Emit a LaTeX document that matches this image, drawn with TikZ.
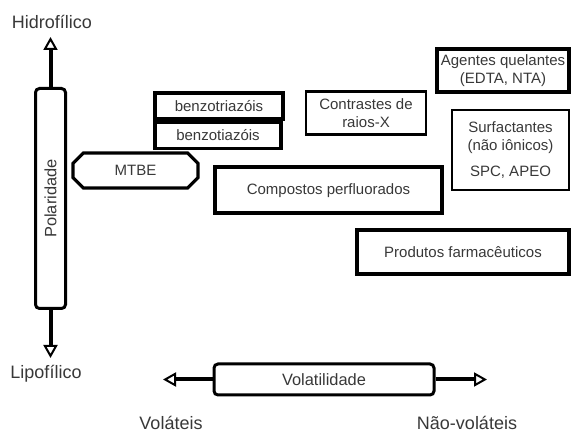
\documentclass[tikz,border=0pt]{standalone}
\usepackage{fontspec}
\setmainfont{Liberation Sans}
\usepackage{xcolor}
\usetikzlibrary{shapes.misc, arrows.meta, positioning, calc}
\definecolor{textgray}{rgb}{0.22, 0.22, 0.22}

\begin{document}
\begin{tikzpicture}[
    x=0.5pt, y=-0.5pt,
    every node/.style={text=textgray},
    group/.style={rectangle, draw=black, line width=2pt, align=center, inner sep=1pt, font=\fontsize{7.5}{9}\selectfont},
    thingroup/.style={group, line width=1.2pt},
    axisbox/.style={rectangle, rounded corners=2pt, draw=black, line width=1.5pt, font=\fontsize{8.2}{10}\selectfont},
    axislabel/.style={font=\fontsize{9}{11}\selectfont},
    axisarrow/.style={line width=2pt, -{Triangle[open, length=6.5pt, width=7pt, line width=1pt]}}
]
\useasboundingbox (0,0) rectangle (571,431);

% Polarity axis
\node[axisbox, rotate=90, minimum width=110pt, minimum height=15pt] (pol) at (50.5,198.5) {Polaridade};
\coordinate (hidtip) at (50.5,37);
\coordinate (liptip) at (50.5,358);
\draw[axisarrow] (pol.east) -- (hidtip);
\draw[axisarrow] (pol.west) -- (liptip);
\node[axislabel] (hid) at (52,22) {Hidrofílico};
\node[axislabel] (lip) at (46,374) {Lipofílico};

% Volatility axis
\node[axisbox, minimum width=110pt, minimum height=15.5pt] (vol) at (324,379.5) {Volatilidade};
\coordinate (voltip) at (163,379.5);
\coordinate (nvtip) at (487,379.5);
\draw[axisarrow] (vol.west) -- (voltip);
\draw[axisarrow] (vol.east) -- (nvtip);
\node[axislabel] (volat) at (171,423) {Voláteis};
\node[axislabel] (nvol) at (467,423) {Não-voláteis};

% Compound groups
\node[group, chamfered rectangle, chamfered rectangle xsep=3.2pt, chamfered rectangle ysep=2pt, line width=1.6pt, minimum width=62.5pt, minimum height=17.5pt] (mtbe) at (135.5,170.5) {MTBE};
\node[group, minimum width=64pt, minimum height=13pt] (btri) at (219,106.5) {benzotriazóis};
\node[group, line width=1.6pt, minimum width=63pt, minimum height=13pt] (btia) at (218,135.5) {benzotiazóis};
\node[thingroup, minimum width=60pt, minimum height=21.5pt] (contr) at (366,113) {Contrastes de\\raios-X};
\node[group, minimum width=113.5pt, minimum height=23pt] (pfc) at (328.5,190.5) {Compostos perfluorados};
\node[group, line width=1.8pt, minimum width=66pt, minimum height=21.5pt] (quel) at (503,70.5) {Agentes quelantes\\(EDTA, NTA)};
\node[thingroup, minimum width=58.5pt, minimum height=40pt] (surf) at (510.5,150) {Surfactantes\\(não iônicos)\\[4pt]SPC, APEO};
\node[group, minimum width=106pt, minimum height=22pt] (farm) at (463,252) {Produtos farmacêuticos};

\end{tikzpicture}
\end{document}
